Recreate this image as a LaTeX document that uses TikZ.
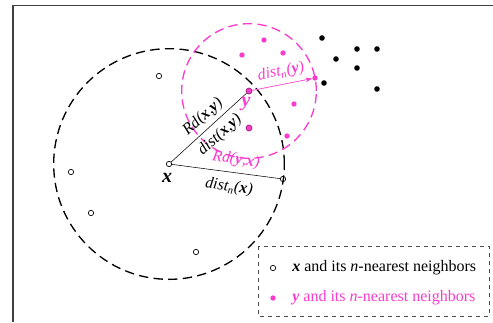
\documentclass[tikz,border=0pt]{standalone}
\usepackage{fontspec}
\setmainfont{Liberation Serif}
\usepackage{tikz}
\usetikzlibrary{arrows.meta, positioning}

\definecolor{pinkc}{RGB}{250,60,205}
\definecolor{pinkedge}{RGB}{150,30,120}

\tikzset{
  opt/.style={circle, draw, fill=white, inner sep=0pt, minimum size=4pt, line width=0.5pt},
  bpt/.style={circle, fill=black, inner sep=0pt, minimum size=4.2pt},
  ppt/.style={circle, fill=pinkc, inner sep=0pt, minimum size=4pt},
  ypt/.style={circle, draw=pinkedge, fill=pinkc, inner sep=0pt, minimum size=4.5pt, line width=0.5pt},
  lbl/.style={inner sep=0pt, font=\fontsize{12}{13}\selectfont\itshape},
  bigdash/.style={dash pattern=on 7pt off 4pt, line width=1pt},
}

\begin{document}
\begin{tikzpicture}[x=0.75pt, y=-0.75pt]
  \useasboundingbox (0,0) rectangle (493,322);
  \draw[black!75, line width=1.1pt] (13,322) -- (13,5.5) -- (493,5.5);

  % points of x
  \node[opt] (x) at (169,164) {};
  \node[opt] (xn) at (283,179) {};
  \node[opt] (o1) at (159,76) {};
  \node[opt] (o2) at (71,172) {};
  \node[opt] (o3) at (91,213) {};
  \node[opt] (o4) at (196,252) {};

  % points of y
  \node[ypt] (y) at (249,91) {};
  \node[ypt] (p1) at (249,128) {};
  \node[ppt] (yn) at (315,78) {};
  \node[ppt] (p2) at (264,40) {};
  \node[ppt] (p3) at (242,55) {};
  \node[ppt] (p4) at (283,53) {};
  \node[ppt] (p5) at (294,104) {};
  \node[ppt] (p6) at (287,136) {};

  % other points
  \node[bpt] (b1) at (322,38) {};
  \node[bpt] (b2) at (357,49) {};
  \node[bpt] (b3) at (377,49) {};
  \node[bpt] (b4) at (336,59) {};
  \node[bpt] (b5) at (357,68) {};
  \node[bpt] (b6) at (324,83) {};
  \node[bpt] (b7) at (377,89) {};

  % neighbourhoods
  \draw[bigdash] (x) circle[radius=86.5pt];
  \draw[bigdash, pinkc] (y) circle[radius=50.5pt];

  \draw[line width=0.4pt] (x) -- (y);
  \draw[line width=0.4pt] (x) -- (xn);
  \draw[pinkc, line width=0.5pt, -{Stealth[length=5pt, width=3.5pt]}] (y) -- (yn);

  % labels
  \node[lbl, font=\fontsize{15}{16}\selectfont\bfseries\itshape] (xlab) at (167,178) {x};
  \node[lbl, pinkc, font=\fontsize{15}{16}\selectfont\bfseries\itshape] (ylab) at (246,104) {y};
  \node[lbl, rotate=42] (rdxy) at (203,117) {Rd(\textbf{x},\textbf{y})};
  \node[lbl, rotate=42] (dxy) at (220,135) {dist(\textbf{x},\textbf{y})};
  \node[lbl, pinkc, rotate=-9] (rdyx) at (236,160) {Rd(\textbf{y},\textbf{x})};
  \node[lbl, rotate=-8] (dnx) at (229,187) {dist\textsubscript{n}(\textbf{x})};
  \node[lbl, pinkc, rotate=11] (dny) at (281,72) {dist\textsubscript{n}(\textbf{y})};

  % legend
  \draw[black!70, dashed, line width=0.6pt] (258,246) rectangle (489,316);
  \node[opt] (lgx) at (273,268) {};
  \node[anchor=west, inner sep=0pt, font=\fontsize{12}{13}\selectfont] (lgxt) at (292,268)
    {\textbf{\textit{x}} and its \textit{n}-nearest neighbors};
  \node[ppt] (lgy) at (273,298) {};
  \node[anchor=west, inner sep=0pt, pinkc, font=\fontsize{12}{13}\selectfont] (lgyt) at (292,298)
    {\textbf{\textit{y}} and its \textit{n}-nearest neighbors};
\end{tikzpicture}
\end{document}
